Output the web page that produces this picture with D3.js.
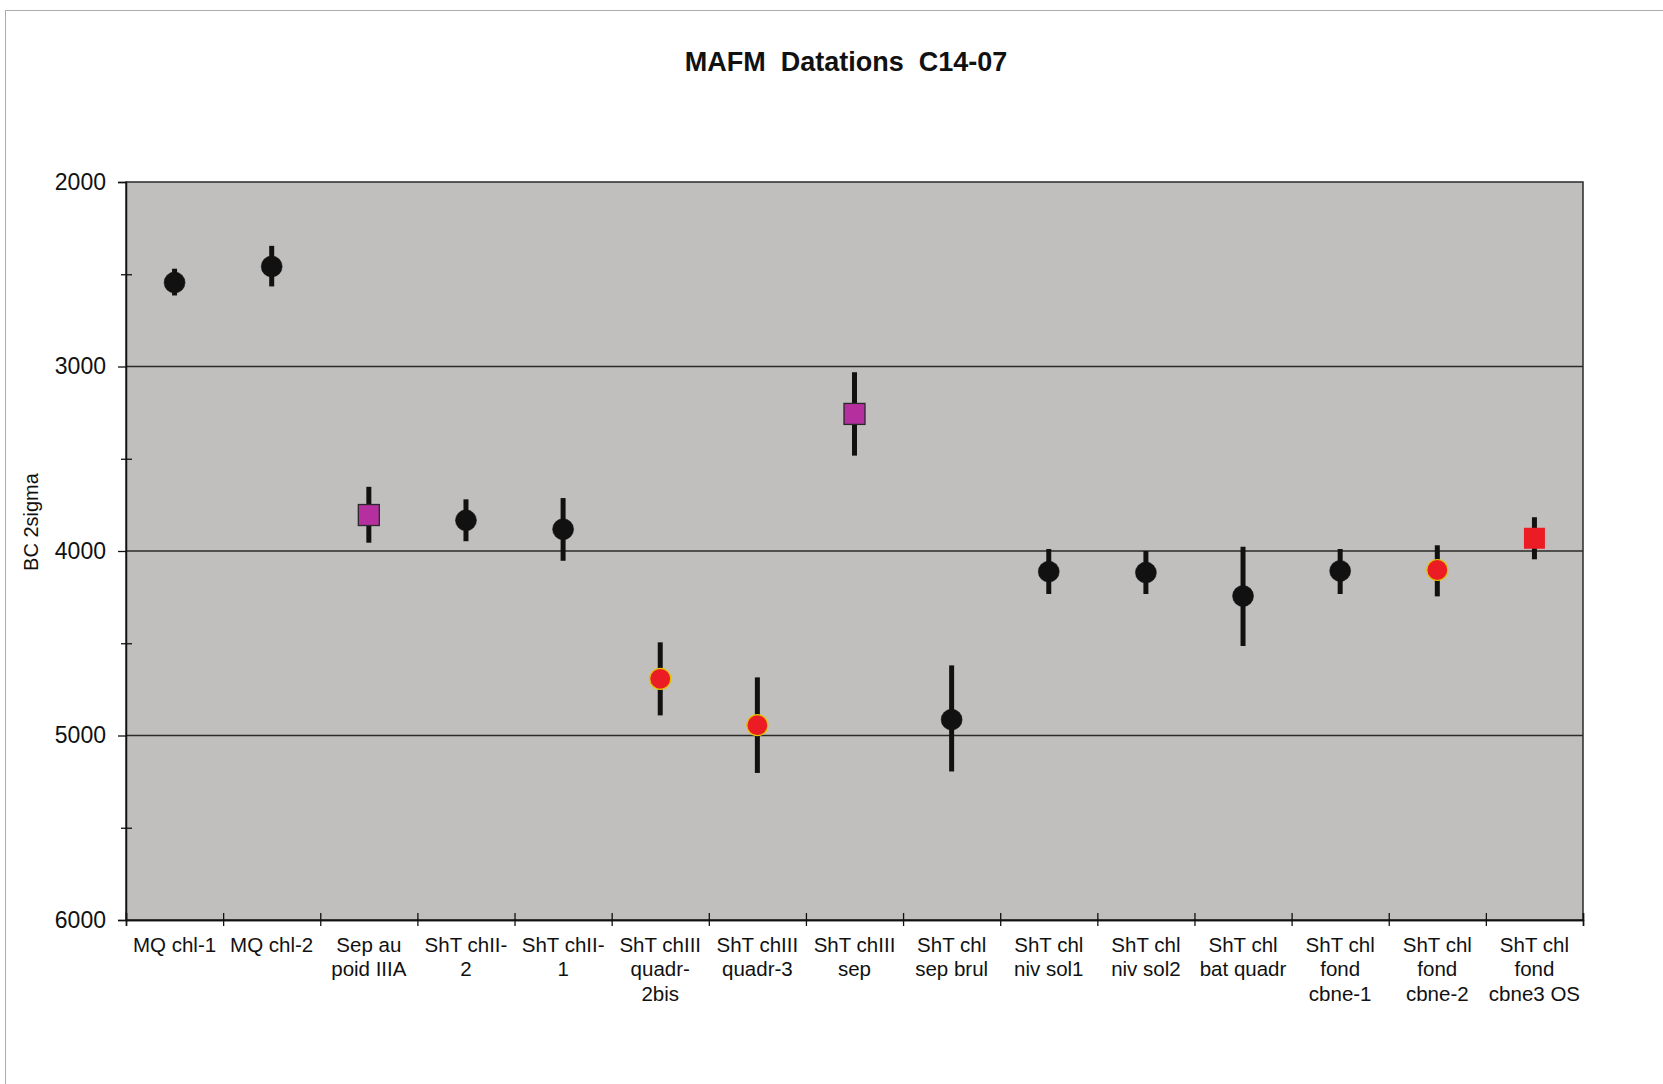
<!DOCTYPE html>
<html>
<head>
<meta charset="utf-8">
<script src="https://cdn.jsdelivr.net/npm/d3@7"></script>
<style>
  html, body { margin: 0; padding: 0; background: #fff; }
  svg { display: block; }
  text { font-family: "Liberation Sans", Arial, sans-serif; fill: #111; }
</style>
</head>
<body>
<svg id="chart" width="1663" height="1084"></svg>
<script>
// ---- Data ----
const title = "MAFM  Datations  C14-07";
const yAxisLabel = "BC 2sigma";
const categories = [
  "MQ chl-1", "MQ chl-2", "Sep au poid IIIA", "ShT chII-2", "ShT chII-1",
  "ShT chIII quadr-2bis", "ShT chIII quadr-3", "ShT chIII sep", "ShT chl sep brul",
  "ShT chl niv sol1", "ShT chl niv sol2", "ShT chl bat quadr",
  "ShT chl fond cbne-1", "ShT chl fond cbne-2", "ShT chl fond cbne3 OS"
];
const tickLabelLines = [
  ["MQ chl-1"], ["MQ chl-2"], ["Sep au", "poid IIIA"], ["ShT chII-", "2"], ["ShT chII-", "1"],
  ["ShT chIII", "quadr-", "2bis"], ["ShT chIII", "quadr-3"], ["ShT chIII", "sep"], ["ShT chl", "sep brul"],
  ["ShT chl", "niv sol1"], ["ShT chl", "niv sol2"], ["ShT chl", "bat quadr"],
  ["ShT chl", "fond", "cbne-1"], ["ShT chl", "fond", "cbne-2"], ["ShT chl", "fond", "cbne3 OS"]
];
const centerValues = [2545, 2458, 3805, 3834, 3882, 4693, 4944, 3257, 4914, 4112, 4117, 4244, 4108, 4103, 3931];
const lowValues    = [2470, 2346, 3652, 3720, 3713, 4495, 4685, 3031, 4620, 3989, 4000, 3977, 3989, 3969, 3817];
const highValues   = [2615, 2566, 3955, 3947, 4053, 4891, 5203, 3483, 5195, 4233, 4233, 4515, 4233, 4246, 4045];
const markerKind   = ["blackCircle", "blackCircle", "purpleSquare", "blackCircle", "blackCircle",
  "redCircle", "redCircle", "purpleSquare", "blackCircle", "blackCircle", "blackCircle", "blackCircle",
  "blackCircle", "redCircle", "redSquare"];
const yDomain = [2000, 6000];
const yMajorTicks = [2000, 3000, 4000, 5000, 6000];
const yMinorTicks = [2500, 3500, 4500, 5500];
const gridValues = [3000, 4000, 5000];

// ---- Layout ----
const plot = { left: 126, right: 1583, top: 182, bottom: 920 };
const svg = d3.select("#chart");

// outer chart border
svg.append("rect")
  .attr("x", 5.5).attr("y", 10.5).attr("width", 1700).attr("height", 1100)
  .attr("fill", "#fff").attr("stroke", "#ababab").attr("stroke-width", 1);

const x = d3.scaleBand().domain(categories).range([plot.left, plot.right]).padding(0);
const y = d3.scaleLinear().domain(yDomain).range([plot.top, plot.bottom]);
const xIdx = d3.scaleLinear().domain([0, categories.length]).range([plot.left, plot.right]);

// plot background
svg.append("rect")
  .attr("x", plot.left).attr("y", plot.top)
  .attr("width", plot.right - plot.left).attr("height", plot.bottom - plot.top)
  .attr("fill", "#c0bfbd");

// gridlines
svg.append("g").selectAll("line").data(gridValues).join("line")
  .attr("x1", plot.left).attr("x2", plot.right)
  .attr("y1", d => y(d)).attr("y2", d => y(d))
  .attr("stroke", "#2a2a2a").attr("stroke-width", 1.3);

// plot border
svg.append("rect")
  .attr("x", plot.left).attr("y", plot.top)
  .attr("width", plot.right - plot.left).attr("height", plot.bottom - plot.top)
  .attr("fill", "none").attr("stroke", "#2a2a2a").attr("stroke-width", 1.5);

// Y axis (major)
const yAxis = svg.append("g").attr("transform", `translate(${plot.left},0)`)
  .call(d3.axisLeft(y).tickValues(yMajorTicks).tickSize(8).tickPadding(12).tickFormat(d3.format("d")));
yAxis.select(".domain").attr("stroke", "#111").attr("stroke-width", 1.5);
yAxis.selectAll(".tick line").attr("stroke", "#111").attr("stroke-width", 1.3);
yAxis.selectAll(".tick text").attr("font-size", 23).attr("fill", "#111")
  .style("font-family", "'Liberation Sans', Arial, sans-serif");

// Y minor ticks (crossing the axis)
const yMinL = svg.append("g").attr("transform", `translate(${plot.left},0)`)
  .call(d3.axisLeft(y).tickValues(yMinorTicks).tickSize(5).tickFormat(""));
const yMinR = svg.append("g").attr("transform", `translate(${plot.left},0)`)
  .call(d3.axisRight(y).tickValues(yMinorTicks).tickSize(6).tickFormat(""));
[yMinL, yMinR].forEach(g => {
  g.select(".domain").remove();
  g.selectAll(".tick line").attr("stroke", "#111").attr("stroke-width", 1.3);
});

// X axis boundary ticks
const xTickB = svg.append("g").attr("transform", `translate(0,${plot.bottom})`)
  .call(d3.axisBottom(xIdx).tickValues(d3.range(categories.length + 1)).tickSize(6).tickFormat(""));
const xTickT = svg.append("g").attr("transform", `translate(0,${plot.bottom})`)
  .call(d3.axisTop(xIdx).tickValues(d3.range(categories.length + 1)).tickSize(7).tickFormat(""));
[xTickB, xTickT].forEach(g => {
  g.select(".domain").attr("stroke", "#111").attr("stroke-width", 1.5);
  g.selectAll(".tick line").attr("stroke", "#111").attr("stroke-width", 1.3);
});

// X axis labels
const xAxis = svg.append("g").attr("transform", `translate(0,${plot.bottom})`)
  .call(d3.axisBottom(x).tickSize(0));
xAxis.select(".domain").remove();
xAxis.selectAll(".tick text").each(function(d, i) {
  const t = d3.select(this);
  t.text(null).attr("y", 32).attr("dy", null)
    .attr("font-size", 20.5).attr("fill", "#111")
    .style("font-family", "'Liberation Sans', Arial, sans-serif");
  tickLabelLines[i].forEach((line, j) => {
    t.append("tspan").attr("x", 0).attr("dy", j === 0 ? 0 : 24.4).text(line);
  });
});

// Error bars
const pts = categories.map((c, i) => ({
  c, v: centerValues[i], lo: lowValues[i], hi: highValues[i], kind: markerKind[i]
}));
svg.append("g").selectAll("line").data(pts).join("line")
  .attr("x1", d => x(d.c) + x.bandwidth() / 2)
  .attr("x2", d => x(d.c) + x.bandwidth() / 2)
  .attr("y1", d => y(d.lo)).attr("y2", d => y(d.hi))
  .attr("stroke", "#111").attr("stroke-width", 5);

// Markers
const markerStyle = {
  blackCircle: { shape: "circle", fill: "#111", stroke: "#111", sw: 0.5 },
  redCircle: { shape: "circle", fill: "#ec1c24", stroke: "#e0c400", sw: 1.2 },
  purpleSquare: { shape: "square", fill: "#b5309e", stroke: "#2a2a2a", sw: 1.3 },
  redSquare: { shape: "square", fill: "#ec1c24", stroke: "none", sw: 0 }
};
const mg = svg.append("g");
pts.forEach(d => {
  const s = markerStyle[d.kind];
  const cx = x(d.c) + x.bandwidth() / 2, cy = y(d.v);
  if (s.shape === "circle") {
    mg.append("circle").attr("cx", cx).attr("cy", cy).attr("r", 10.5)
      .attr("fill", s.fill).attr("stroke", s.stroke).attr("stroke-width", s.sw);
  } else {
    mg.append("rect").attr("x", cx - 10.5).attr("y", cy - 10.5)
      .attr("width", 21).attr("height", 21)
      .attr("fill", s.fill).attr("stroke", s.stroke).attr("stroke-width", s.sw);
  }
});

// Title
svg.append("text")
  .attr("x", 846).attr("y", 70.5).attr("text-anchor", "middle")
  .attr("font-size", 27).attr("font-weight", "bold")
  .style("white-space", "pre")
  .text(title);

// Y axis label
svg.append("text")
  .attr("transform", "translate(38,522) rotate(-90)")
  .attr("text-anchor", "middle")
  .attr("font-size", 20).attr("fill", "#222")
  .text(yAxisLabel);
</script>
</body>
</html>
